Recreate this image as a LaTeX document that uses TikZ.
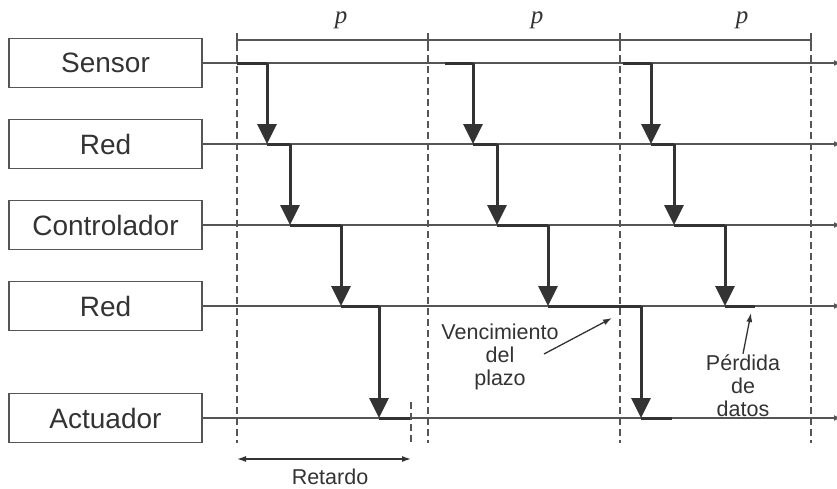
\documentclass[tikz,border=0pt]{standalone}
\usepackage{fontspec}
\setmainfont{Liberation Sans}
\newfontfamily\pfont{Liberation Serif}
\usetikzlibrary{arrows.meta,positioning,calc}
\definecolor{tlink}{HTML}{333333}
\definecolor{tline}{HTML}{555555}
\tikzset{
  block/.style={draw=tline, line width=1.4pt, minimum width=193pt,
    minimum height=49pt, inner sep=0pt, font=\fontsize{28}{32}\selectfont, text=tlink},
  axis/.style={tline, line width=1.3pt, -{Latex[length=7pt,width=6pt]}},
  guide/.style={tline, line width=1.3pt, dash pattern=on 7pt off 4pt},
  hold/.style={tlink, line width=3pt},
  drop/.style={tlink, line width=3pt, -{Triangle[length=20pt,width=19pt]}},
  note/.style={align=center, font=\fontsize{21.5}{23}\selectfont, text=tlink, inner sep=1pt},
  pointer/.style={tlink, line width=1.3pt, -{Latex[length=9pt,width=6pt]}},
}
\begin{document}
\begin{tikzpicture}[x=1pt, y=-1pt]
  \useasboundingbox (0,0) rectangle (837,488);
  % blocks
  \node[block] (sensor) at (105.5,63) {Sensor};
  \node[block] (red1) at (105.5,144) {Red};
  \node[block] (ctrl) at (105.5,225) {Controlador};
  \node[block] (red2) at (105.5,306) {Red};
  \node[block] (act) at (105.5,418) {Actuador};
  % time lines
  \foreach \b in {sensor,red1,ctrl,red2,act} {
    \draw[axis] (\b.east) -- (\b.east -| 841,0);
  }
  % periods
  \foreach \x in {237,428,620,811} {
    \draw[guide] (\x,33) -- (\x,443);
    \draw[tline, line width=1.3pt] (\x,33) -- (\x,47);
  }
  \draw[tline, line width=1.3pt] (237,40) -- (811,40);
  \node[font=\pfont\itshape\fontsize{25}{28}\selectfont, text=tlink] (p1) at (341,20) {p};
  \node[font=\pfont\itshape\fontsize{25}{28}\selectfont, text=tlink] (p2) at (537,20) {p};
  \node[font=\pfont\itshape\fontsize{25}{28}\selectfont, text=tlink] (p3) at (742,20) {p};
  % transfers
  \foreach \xa/\xb/\ya/\yb in {237/267/63/144, 267/290/144/225, 290/341/225/306, 341/379/306/418,
    445/473/63/144, 473/497/144/225, 497/548/225/306, 548/641/306/418,
    623/651/63/144, 651/674/144/225, 674/725/225/306} {
    \draw[hold] (\xa,\ya) -- (\xb,\ya);
    \draw[drop] (\xb,\ya) -- (\xb,\yb);
  }
  \draw[hold] (379,418) -- (410,418);
  \draw[hold] (641,418) -- (672,418);
  \draw[hold] (725,306) -- (755,306);
  % delay
  \draw[guide] (411,402) -- (411,443);
  \coordinate (d0) at (237,459);
  \coordinate (d1) at (411,459);
  \draw[tlink, line width=1.3pt, {Latex[length=9pt,width=6pt]}-{Latex[length=9pt,width=6pt]}] (d0) -- (d1);
  \node[note] (delay) at (330,477) {Retardo};
  % notes
  \node[note] (venc) at (500,357) {Vencimiento\\del\\plazo};
  \coordinate (vtail) at (544,354);
  \coordinate (vhead) at (612,318);
  \draw[pointer] (vtail) -- (vhead);
  \node[note] (loss) at (743,386) {Pérdida\\de\\datos};
  \coordinate (lhead) at (751,313);
  \draw[pointer] (loss.north) -- (lhead);
\end{tikzpicture}
\end{document}
